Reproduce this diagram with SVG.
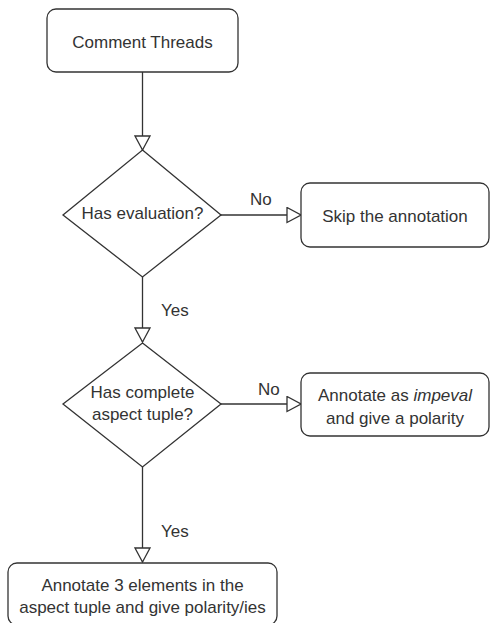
<svg xmlns="http://www.w3.org/2000/svg" width="490" height="623" viewBox="0 0 490 623">
<style>
.node{fill:#fff;stroke:#333;stroke-width:1.3}
.t{font-family:"Liberation Sans",Arial,sans-serif;font-size:17px;fill:#333;text-anchor:middle}
.l{font-family:"Liberation Sans",Arial,sans-serif;font-size:17px;fill:#333}
.c{fill:none;stroke:#333;stroke-width:1.3}
</style>
<defs>
<marker id="arr" viewBox="0 0 16 17" refX="15" refY="8.5" markerWidth="16" markerHeight="17" markerUnits="userSpaceOnUse" orient="auto">
<path d="M1,1 L15,8.5 L1,16 Z" fill="#fff" stroke="#333" stroke-width="1.3"/>
</marker>
</defs>
<rect width="490" height="623" fill="#fff"/>
<g id="connectors">
<path class="c" d="M142.5,72 V150" marker-end="url(#arr)"/>
<path class="c" d="M142.5,277 V342" marker-end="url(#arr)"/>
<path class="c" d="M142.5,467 V562" marker-end="url(#arr)"/>
<path class="c" d="M221,215 H301" marker-end="url(#arr)"/>
<path class="c" d="M221,404 H301" marker-end="url(#arr)"/>
<text class="l" x="250" y="205">No</text>
<text class="l" x="258" y="395">No</text>
<text class="l" x="161" y="316">Yes</text>
<text class="l" x="161" y="537">Yes</text>
</g>
<g id="comment-threads">
<rect class="node" x="47" y="9" width="191" height="63" rx="9"/>
<text class="t" x="142.5" y="48">Comment Threads</text>
</g>
<g id="has-evaluation">
<path class="node" d="M142.5,150 L221,215 L142.5,277 L63,215 Z"/>
<text class="t" x="142.5" y="219">Has evaluation?</text>
</g>
<g id="skip">
<rect class="node" x="301" y="183" width="188" height="64" rx="9"/>
<text class="t" x="395" y="222">Skip the annotation</text>
</g>
<g id="has-complete">
<path class="node" d="M142.5,343 L221,404 L142.5,467 L63,404 Z"/>
<text class="t" x="142.5" y="398">Has complete</text>
<text class="t" x="142.5" y="420">aspect tuple?</text>
</g>
<g id="impeval">
<rect class="node" x="301" y="373" width="188" height="63" rx="9"/>
<text class="t" x="395" y="401">Annotate as <tspan font-style="italic">impeval</tspan></text>
<text class="t" x="395" y="424">and give a polarity</text>
</g>
<g id="annotate-3">
<rect class="node" x="8" y="563" width="269" height="62" rx="9"/>
<text class="t" x="142.5" y="591">Annotate 3 elements in the</text>
<text class="t" x="142.5" y="613">aspect tuple and give polarity/ies</text>
</g>
</svg>
